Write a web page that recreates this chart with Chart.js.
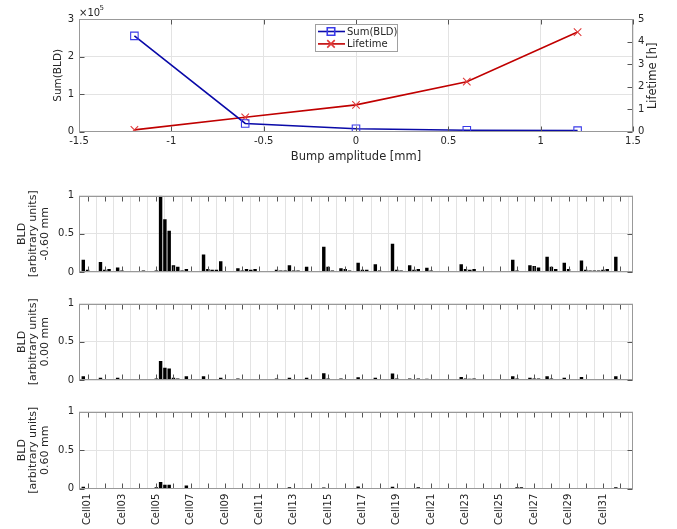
<!DOCTYPE html>
<html>
<head>
<meta charset="utf-8">
<script src="https://cdn.jsdelivr.net/npm/chart.js@4.4.0/dist/chart.umd.min.js"></script>
<style>
  body { margin: 0; background: #fff; }
  #wrap { position: relative; width: 677px; height: 529px; overflow: hidden; }
  #wrap canvas { position: absolute; left: 0; }
</style>
</head>
<body>
<div id="wrap">
  <canvas id="lifetimeChart" width="677" height="170" style="top:0px"></canvas>
  <canvas id="bldMinus" width="677" height="100" style="top:183px"></canvas>
  <canvas id="bldZero" width="677" height="100" style="top:291px"></canvas>
  <canvas id="bldPlus" width="677" height="130" style="top:399px"></canvas>
</div>
<script>
// ---- data ----
const bumpAmplitude = [-1.2, -0.6, 0, 0.6, 1.2];       // mm
const sumBLD = [255000, 22000, 8000, 4000, 3000];
const lifetimeHours = [0.08, 0.64, 1.19, 2.22, 4.42];

const cellLabels = ['Cell01', 'Cell02', 'Cell03', 'Cell04', 'Cell05', 'Cell06', 'Cell07', 'Cell08',
  'Cell09', 'Cell10', 'Cell11', 'Cell12', 'Cell13', 'Cell14', 'Cell15', 'Cell16',
  'Cell17', 'Cell18', 'Cell19', 'Cell20', 'Cell21', 'Cell22', 'Cell23', 'Cell24',
  'Cell25', 'Cell26', 'Cell27', 'Cell28', 'Cell29', 'Cell30', 'Cell31', 'Cell32'];
// BLD index where each cell tick sits
const cellTickPositions = [2, 6, 10, 14, 18, 22, 26, 30, 34, 38, 42, 46, 50, 54, 58, 62,
  66, 70, 74, 78, 82, 86, 90, 94, 98, 102, 106, 110, 114, 118, 122, 126];

// normalised BLD readings, 128 detectors, one array per bump amplitude
const bldMinus060 = [
  0.16, 0.03, 0.005, 0.005, 0.13, 0.03, 0.04, 0.01, 0.06, 0.02, 0.01, 0, 0.01, 0.01, 0.02, 0.01,
  0.005, 0.02, 1.0, 0.69, 0.54, 0.09, 0.07, 0.02, 0.04, 0, 0.01, 0.005, 0.23, 0.04, 0.03, 0.03,
  0.14, 0.01, 0.005, 0.005, 0.05, 0.02, 0.04, 0.03, 0.04, 0, 0.005, 0.005, 0.01, 0.03, 0.02, 0.02,
  0.09, 0.02, 0.02, 0.01, 0.07, 0.01, 0.01, 0.005, 0.33, 0.07, 0.02, 0, 0.05, 0.04, 0.02, 0,
  0.12, 0.03, 0.03, 0, 0.10, 0.02, 0.01, 0, 0.37, 0.03, 0.02, 0, 0.09, 0.03, 0.04, 0,
  0.055, 0.02, 0, 0.01, 0.005, 0.01, 0, 0.005, 0.10, 0.04, 0.03, 0.04, 0.005, 0.005, 0.005, 0.005,
  0.005, 0, 0.005, 0.01, 0.16, 0.02, 0.01, 0.01, 0.09, 0.08, 0.06, 0, 0.20, 0.07, 0.04, 0.005,
  0.12, 0.04, 0.01, 0, 0.15, 0.03, 0.02, 0.02, 0.02, 0.03, 0.04, 0.005, 0.20, 0.01, 0.01, 0.01
];
const bldZero = [
  0.05, 0.01, 0.005, 0.005, 0.03, 0.01, 0.01, 0.005, 0.03, 0.005, 0.005, 0, 0.005, 0.005, 0.01, 0.005,
  0.005, 0.02, 0.25, 0.16, 0.15, 0.03, 0.02, 0.01, 0.05, 0, 0.005, 0.005, 0.05, 0.01, 0.01, 0.01,
  0.03, 0.005, 0.005, 0.005, 0.02, 0.005, 0.01, 0.005, 0.01, 0, 0.005, 0.005, 0.01, 0.02, 0.01, 0.01,
  0.03, 0.01, 0.01, 0.005, 0.03, 0.005, 0.005, 0.005, 0.09, 0.02, 0.005, 0, 0.02, 0.01, 0.01, 0,
  0.035, 0.01, 0.005, 0, 0.03, 0.005, 0.005, 0, 0.085, 0.02, 0.01, 0.005, 0.02, 0.005, 0.02, 0,
  0.015, 0.005, 0, 0.005, 0.005, 0.005, 0, 0.005, 0.04, 0.02, 0.015, 0.02, 0.005, 0.005, 0.005, 0.005,
  0.005, 0, 0.005, 0.01, 0.05, 0.02, 0.01, 0.01, 0.03, 0.02, 0.02, 0, 0.05, 0.02, 0.01, 0.005,
  0.03, 0.01, 0.005, 0, 0.04, 0.005, 0.005, 0.005, 0.01, 0.01, 0.01, 0.005, 0.05, 0.01, 0.005, 0.005
];
const bldPlus060 = [
  0.025, 0.01, 0.005, 0.005, 0.01, 0.005, 0.005, 0.005, 0.01, 0.01, 0.005, 0, 0.005, 0.005, 0.005, 0.005,
  0.005, 0.02, 0.087, 0.05, 0.05, 0.01, 0.01, 0.01, 0.04, 0, 0.005, 0.005, 0.01, 0.005, 0.005, 0.005,
  0.005, 0.005, 0.005, 0, 0.01, 0.005, 0.005, 0, 0.005, 0, 0, 0, 0.005, 0.01, 0.005, 0.005,
  0.02, 0.01, 0.005, 0, 0.01, 0.01, 0.005, 0, 0.015, 0.005, 0.005, 0, 0.005, 0.005, 0, 0,
  0.03, 0.01, 0.005, 0, 0.01, 0.005, 0.005, 0, 0.025, 0.01, 0.005, 0, 0.01, 0.005, 0.02, 0,
  0.01, 0.005, 0, 0.005, 0, 0, 0, 0.005, 0.01, 0.005, 0.005, 0.005, 0.003, 0.003, 0.003, 0.003,
  0.003, 0, 0.003, 0.003, 0.01, 0.02, 0.02, 0.005, 0.01, 0.005, 0.005, 0, 0.01, 0.01, 0.005, 0,
  0.005, 0.005, 0, 0, 0.005, 0.005, 0, 0, 0.005, 0.01, 0.005, 0, 0.02, 0.01, 0.005, 0
];

Chart.defaults.font.family = "'DejaVu Sans', sans-serif";
Chart.defaults.font.size = 10;
Chart.defaults.color = '#262626';

const gridColor = '#e3e3e3';
const boxColor = '#999999';
const tickColor = '#555555';
const plainNumber = v => String(Math.round(v * 1000) / 1000);

// matlab style box around the axes + inward tick marks
const axesBox = {
  id: 'axesBox',
  afterDraw(chart, args, opts) {
    const { ctx, chartArea: a } = chart;
    const L = Math.round(a.left) + 0.5, R = Math.round(a.right) - 0.5;
    const T = Math.round(a.top) + 0.5, B = Math.round(a.bottom) - 0.5;
    const len = 5;
    ctx.save();
    ctx.lineWidth = 1;
    ctx.strokeStyle = tickColor;
    ctx.beginPath();
    const xs = chart.scales.x;
    xs.ticks.forEach(t => {
      const px = Math.round(xs.getPixelForValue(t.value)) + 0.5;
      ctx.moveTo(px, B); ctx.lineTo(px, B - len);
      ctx.moveTo(px, T); ctx.lineTo(px, T + len);
    });
    (opts.leftTicks || []).forEach(id => {
      const s = chart.scales[id];
      s.ticks.forEach(t => {
        const py = Math.round(s.getPixelForValue(t.value)) + 0.5;
        ctx.moveTo(L, py); ctx.lineTo(L + len, py);
      });
    });
    (opts.rightTicks || []).forEach(id => {
      const s = chart.scales[id];
      s.ticks.forEach(t => {
        const py = Math.round(s.getPixelForValue(t.value)) + 0.5;
        ctx.moveTo(R, py); ctx.lineTo(R - len, py);
      });
    });
    ctx.stroke();
    ctx.strokeStyle = boxColor;
    ctx.strokeRect(L, T, R - L, B - T);
    ctx.restore();
  }
};

// legend in the box, right axis label and the x10^5 exponent of the top plot
const topExtras = {
  id: 'topExtras',
  afterDraw(chart, args, o) {
    const ctx = chart.ctx;
    const a = chart.chartArea;
    ctx.save();
    // legend
    ctx.fillStyle = '#ffffff';
    ctx.fillRect(o.x, o.y, o.w, o.h);
    ctx.strokeStyle = '#a0a0a0';
    ctx.lineWidth = 1;
    ctx.strokeRect(o.x + 0.5, o.y + 0.5, o.w, o.h);
    chart.data.datasets.forEach((ds, i) => {
      const y = o.y + 7.5 + i * 12.4;
      ctx.strokeStyle = ds.borderColor;
      ctx.lineWidth = ds.borderWidth;
      ctx.beginPath();
      ctx.moveTo(o.x + 3, y); ctx.lineTo(o.x + 30, y);
      ctx.stroke();
      ctx.strokeStyle = ds.pointBorderColor;
      ctx.fillStyle = 'rgba(0,0,0,0)';
      Chart.helpers.drawPoint(ctx, { pointStyle: ds.pointStyle, radius: ds.pointRadius,
        borderWidth: ds.pointBorderWidth, rotation: 0 }, o.x + 16, y);
      ctx.fillStyle = '#262626';
      ctx.font = "10px 'DejaVu Sans'";
      ctx.textBaseline = 'middle';
      ctx.textAlign = 'left';
      ctx.fillText(ds.label, o.x + 32, y + 0.5);
    });
    // exponent
    ctx.fillStyle = '#262626';
    ctx.textBaseline = 'middle';
    ctx.font = "10px 'DejaVu Sans'";
    ctx.fillText('\u00d710', a.left, 13.5);
    ctx.font = "7px 'DejaVu Sans'";
    ctx.fillText('5', a.left + 20.5, 8.5);
    // right axis title, reads bottom to top like matlab
    ctx.font = "11.5px 'DejaVu Sans'";
    ctx.textAlign = 'center';
    ctx.translate(653.3, 75.8);
    ctx.rotate(-Math.PI / 2);
    ctx.fillText('Lifetime [h]', 0, 0);
    ctx.restore();
  }
};

new Chart(document.getElementById('lifetimeChart'), {
  type: 'line',
  data: {
    datasets: [{
      label: 'Sum(BLD)',
      data: bumpAmplitude.map((x, i) => ({ x: x, y: sumBLD[i] })),
      yAxisID: 'y',
      borderColor: '#0a0aa8',
      borderWidth: 1.6,
      pointStyle: 'rect',
      pointRadius: 5.3,
      pointBorderColor: '#3a3ae8',
      pointBackgroundColor: 'rgba(0,0,0,0)',
      pointBorderWidth: 1.1,
      tension: 0
    }, {
      label: 'Lifetime',
      data: bumpAmplitude.map((x, i) => ({ x: x, y: lifetimeHours[i] })),
      yAxisID: 'y1',
      borderColor: '#c00000',
      borderWidth: 1.6,
      pointStyle: 'crossRot',
      pointRadius: 5.3,
      pointBorderColor: '#e03a3a',
      pointBackgroundColor: 'rgba(0,0,0,0)',
      pointBorderWidth: 1.1,
      tension: 0
    }]
  },
  options: {
    responsive: false,
    animation: false,
    layout: { padding: { top: 19, left: 0, right: 0, bottom: 0 } },
    plugins: {
      legend: { display: false },
      tooltip: { enabled: false },
      axesBox: { leftTicks: ['y'], rightTicks: ['y1'] },
      topExtras: { x: 315, y: 24, w: 82, h: 27 }
    },
    scales: {
      x: {
        type: 'linear', min: -1.5, max: 1.5,
        ticks: { stepSize: 0.5, padding: 4, callback: plainNumber },
        grid: { color: gridColor, drawTicks: false },
        border: { display: false },
        title: { display: true, text: 'Bump amplitude [mm]', font: { size: 11.5 }, padding: { top: 0, bottom: 6.4 } },
        afterFit: s => { s.height = 170 - 131.7; }
      },
      y: {
        position: 'left', min: 0, max: 300000,
        ticks: { stepSize: 100000, padding: 5, callback: v => plainNumber(v / 1e5) },
        grid: { color: gridColor, drawTicks: false },
        border: { display: false },
        title: { display: true, text: 'Sum(BLD)', font: { size: 10.5 }, padding: { top: 52.4, bottom: 0 } },
        afterFit: s => { s.width = 79; }
      },
      y1: {
        position: 'right', min: 0, max: 5,
        ticks: { stepSize: 1, padding: 5, callback: plainNumber },
        grid: { display: false, drawTicks: false },
        border: { display: false },
        afterFit: s => { s.width = 44; }
      }
    }
  },
  plugins: [axesBox, topExtras]
});

function drawBldPanel(canvasId, values, titleLines, showCellLabels, bottomGap) {
  new Chart(document.getElementById(canvasId), {
    type: 'bar',
    data: {
      datasets: [{
        label: titleLines[2],
        data: values.map((v, i) => ({ x: i + 1, y: v })),
        backgroundColor: '#000000',
        borderWidth: 0,
        barPercentage: 0.8,
        categoryPercentage: 1.0
      }]
    },
    options: {
      responsive: false,
      animation: false,
      layout: { padding: { top: 12.7, right: 44, left: 0, bottom: 0 } },
      plugins: {
        legend: { display: false },
        tooltip: { enabled: false },
        axesBox: { leftTicks: ['y'], rightTicks: ['y'] }
      },
      scales: {
        x: {
          type: 'linear', min: 0, max: 129, offset: false,
          afterBuildTicks: s => { s.ticks = cellTickPositions.map(v => ({ value: v })); },
          ticks: {
            display: showCellLabels, autoSkip: false, minRotation: 90, maxRotation: 90, padding: 5,
            callback: (v, i) => (i % 2 === 0 ? cellLabels[i] : '')
          },
          grid: { color: gridColor, drawTicks: false },
          border: { display: false },
          afterFit: s => { s.height = bottomGap; }
        },
        y: {
          min: 0, max: 1,
          ticks: { stepSize: 0.5, padding: 5, callback: plainNumber },
          grid: { color: gridColor, drawTicks: false },
          border: { display: false },
          title: { display: true, text: titleLines, font: { size: 11, lineHeight: 1.06 }, padding: { top: 15.9, bottom: 0 } },
          afterFit: s => { s.width = 79; }
        }
      }
    },
    plugins: [axesBox]
  });
}

drawBldPanel('bldMinus', bldMinus060, ['BLD', '[arbitrary units]', '-0.60 mm'], false, 100 - 89.7);
drawBldPanel('bldZero', bldZero, ['BLD', '[arbitrary units]', '0.00 mm'], false, 100 - 90);
drawBldPanel('bldPlus', bldPlus060, ['BLD', '[arbitrary units]', '0.60 mm'], true, 130 - 89.7);
</script>
</body>
</html>
